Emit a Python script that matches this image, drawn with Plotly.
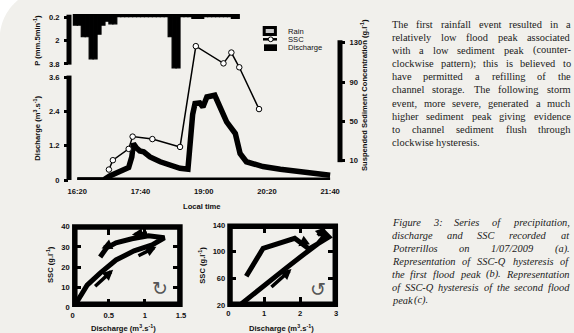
import math
import plotly.graph_objects as go

W, H = 574, 333
BG = "#f1f0ec"
DAY = "2009-07-01 "
SANS = "Liberation Sans, Arial, sans-serif"
SERIF = "Liberation Serif, Times New Roman, serif"

# ---------------- data ----------------
rain_start = ["16:15", "16:20", "16:25", "16:30", "16:35", "16:40", "16:45", "16:50", "16:55",
              "17:00", "17:05", "17:10", "17:15", "17:20", "17:25", "17:30", "17:35", "17:40",
              "17:45", "17:50", "17:55", "18:00", "18:05", "18:10", "18:15", "18:20", "18:25",
              "18:30", "18:35", "18:40", "18:45", "18:50", "18:55", "19:00", "19:05", "19:10",
              "19:15", "19:20", "19:25", "19:30", "19:35", "19:40"]
rain_mm = [0.8, 0.8, 1.7, 1.7, 3.4, 3.4, 1.5, 0.8, 0.5,
           0.7, 0.7, 0.15, 0.15, 0.15, 0.15, 0.15, 0.15, 0.15,
           0.15, 0.15, 0.15, 0.15, 0.15, 0.15, 1.7, 4.1, 4.1,
           0.15, 0.15, 0.15, 0.28, 0.28, 0.28, 0.15, 0.15, 0.15,
           0.15, 0.15, 0.15, 0.15, 0.28, 0.28]

q_time = ["16:20", "16:53", "17:01", "17:14", "17:25", "17:29", "17:31", "17:35", "17:39",
          "17:44", "17:52", "18:05", "18:17", "18:30", "18:40", "18:43", "18:46", "18:49",
          "18:55", "18:59", "19:04", "19:14", "19:21", "19:29", "19:40", "19:46", "19:54",
          "20:15", "20:37", "21:19", "21:40"]
q_val = [0, 0, 0.14, 0.29, 0.44, 0.81, 1.28, 1.12, 1.02,
         0.99, 0.81, 0.64, 0.52, 0.41, 0.38, 1.63, 2.3, 2.68,
         2.7, 2.56, 2.91, 2.97, 2.56, 2.04, 1.63, 0.93, 0.64,
         0.47, 0.38, 0.26, 0.17]

ssc_time = ["17:00", "17:05", "17:25", "17:30", "17:55", "18:30", "18:50", "19:25", "19:35", "19:45", "20:10"]
ssc_val = [1, 10.5, 22, 34.5, 32, 24, 126.5, 109, 120, 105, 62.5]

time_ticks = ["16:20", "17:40", "19:00", "20:20", "21:40"]

# hysteresis, first flood peak (b)
q_b = [0.03, 0.2, 0.38, 0.6, 0.85, 1.1, 1.27, 1.05, 0.82, 0.6, 0.47, 0.38]
ssc_b = [1, 11, 17, 23.5, 28, 31, 34.5, 35.5, 34, 32, 29.5, 25]
# hysteresis, second flood peak (c)
q_c = [0.37, 1.0, 1.6, 2.2, 2.5, 2.72, 2.6, 2.8, 2.5, 2.25, 1.85, 0.97, 0.5]
ssc_c = [22, 48, 75, 100, 112, 126, 133, 122, 112, 104, 120, 105, 63]

paragraph = [
    "The first rainfall event resulted in a",
    "relatively low flood peak associated",
    "with a low sediment peak (counter-",
    "clockwise pattern); this is believed to",
    "have permitted a refilling of the",
    "channel storage. The following storm",
    "event, more severe, generated a much",
    "higher sediment peak giving evidence",
    "to channel sediment flush through",
    "clockwise hysteresis.",
]
caption = [
    "Figure 3: Series of precipitation,",
    "discharge and SSC recorded at",
    "Potrerillos on 1/07/2009 (a).",
    "Representation of SSC-Q hysteresis of",
    "the first flood peak (b). Representation",
    "of SSC-Q hysteresis of the second flood",
    "peak (c).",
]


def T(t):
    return DAY + t


def px(x):
    return x / W


def py(y):
    return 1 - y / H


fig = go.Figure()

# rain
fig.add_trace(go.Bar(x=[T(t) for t in rain_start], y=rain_mm, base=0, width=300000, offset=0,
                     marker=dict(color="black", line=dict(color="black", width=1.2)),
                     xaxis="x", yaxis="y3", showlegend=False))
# discharge
fig.add_trace(go.Scatter(x=[T(t) for t in q_time], y=q_val, mode="lines",
                         line=dict(color="black", width=5.5), xaxis="x", yaxis="y", showlegend=False))
# SSC
fig.add_trace(go.Scatter(x=[T(t) for t in ssc_time], y=ssc_val, mode="lines+markers",
                         line=dict(color="black", width=1.5),
                         marker=dict(symbol="circle", size=5.5, color="white", line=dict(color="black", width=1)),
                         xaxis="x", yaxis="y2", showlegend=False))
# hysteresis b, c
fig.add_trace(go.Scatter(x=q_b, y=ssc_b, mode="lines", line=dict(color="black", width=5),
                         xaxis="x2", yaxis="y4", showlegend=False))
fig.add_trace(go.Scatter(x=q_c, y=ssc_c, mode="lines", line=dict(color="black", width=5),
                         xaxis="x3", yaxis="y5", showlegend=False))

tickfont = dict(family=SANS, size=7.6, color="#111", weight="bold")
common = dict(showgrid=False, zeroline=False, showline=False, tickfont=tickfont, fixedrange=True,
              automargin=False)

fig.update_layout(
    width=W, height=H, margin=dict(l=0, r=0, t=0, b=0, autoexpand=False),
    paper_bgcolor=BG, plot_bgcolor="rgba(0,0,0,0)", bargap=0, showlegend=False,
    xaxis=dict(domain=[px(69), px(340)], type="date", range=[T("16:09:29"), T("21:52:30")],
               tickvals=[T(t) for t in time_ticks], ticktext=time_ticks, ticks="",
               anchor="y", ticklabelstandoff=5, **common),
    yaxis=dict(domain=[py(180), py(73)], range=[0, 3.75], tickvals=[0, 1.2, 2.4, 3.6],
               ticktext=["0", "1.2", "2.4", "3.6"], ticks="outside", ticklen=4, tickwidth=3,
               tickcolor="black", anchor="x", ticklabelstandoff=3, **common),
    yaxis2=dict(domain=[py(181), py(14)], range=[-10.65, 159.2], tickvals=[10, 50, 90, 130],
                ticks="outside", ticklen=4, tickwidth=3, tickcolor="black", side="right",
                anchor="x", ticklabelstandoff=3, **common),
    yaxis3=dict(domain=[py(70), py(13)], range=[4.264, -0.131], tickvals=[0.2, 2, 3.8],
                ticktext=["0.2", "2", "3.8"], ticks="outside", ticklen=4, tickwidth=3,
                tickcolor="black", anchor="x", ticklabelstandoff=3, **common),
    xaxis2=dict(domain=[px(72.7), px(181)], range=[0, 1.5], tickvals=[0, 0.5, 1, 1.5],
                ticktext=["0", "0.5", "1", "1.5"], ticks="inside", ticklen=8, tickwidth=3,
                tickcolor="black", mirror="ticks", anchor="y4", ticklabelstandoff=2, **common),
    yaxis4=dict(domain=[py(307.3), py(226.7)], range=[0, 40], tickvals=[0, 10, 20, 30, 40],
                ticks="inside", ticklen=8, tickwidth=3, tickcolor="black", mirror="ticks",
                anchor="x2", ticklabelstandoff=2, **common),
    xaxis3=dict(domain=[px(228.3), px(336)], range=[0, 3], tickvals=[0, 1, 2, 3],
                ticks="inside", ticklen=8, tickwidth=3, tickcolor="black", mirror="ticks",
                anchor="y5", ticklabelstandoff=2, **common),
    yaxis5=dict(domain=[py(305), py(225)], range=[20, 140], tickvals=[20, 60, 100, 140],
                ticks="inside", ticklen=8, tickwidth=3, tickcolor="black", mirror="ticks",
                anchor="x3", ticklabelstandoff=2, **common),
)

shapes = []
# white rounded corner top-left
cx, cy, R = 49.7, 38.7, 50.0
a1 = math.atan2(0 - cy, 18 - cx)
a2 = math.atan2(33 - cy, 0 - cx)
pts = [(0, 0), (18, 0)]
for i in range(1, 24):
    a = a1 + (a2 - a1) * i / 24
    pts.append((cx + R * math.cos(a), cy + R * math.sin(a)))
pts.append((0, 33))
path = "M " + " L ".join(f"{px(x):.5f},{py(y):.5f}" for x, y in pts) + " Z"
shapes.append(dict(type="path", path=path, xref="paper", yref="paper", fillcolor="white",
                   line=dict(width=0), layer="below"))
# axis lines
shapes.append(dict(type="line", xref="paper", yref="y3", x0=px(69), x1=px(69), y0=0, y1=3.85,
                   line=dict(color="black", width=5)))
shapes.append(dict(type="line", xref="paper", yref="y", x0=px(69), x1=px(69), y0=-0.06, y1=3.66,
                   line=dict(color="black", width=5)))
shapes.append(dict(type="line", xref="x", yref="y", x0=T("16:20"), x1=T("21:40"), y0=0, y1=0,
                   line=dict(color="black", width=5)))
shapes.append(dict(type="line", xref="paper", yref="y2", x0=px(340), x1=px(340), y0=8.5, y1=132.5,
                   line=dict(color="black", width=5)))
# boxes of hysteresis panels
shapes.append(dict(type="rect", xref="paper", yref="paper", x0=px(74.8), x1=px(179.9),
                   y0=py(304.3), y1=py(227), line=dict(color="black", width=5.5)))
shapes.append(dict(type="rect", xref="paper", yref="paper", x0=px(230), x1=px(335.3),
                   y0=py(304.2), y1=py(226.2), line=dict(color="black", width=5.5)))
# legend symbols
shapes.append(dict(type="rect", xref="paper", yref="paper", x0=px(264.2), x1=px(275.4),
                   y0=py(34.4), y1=py(27.4), fillcolor="#c9c9c9", line=dict(color="black", width=3)))
shapes.append(dict(type="line", xref="paper", yref="paper", x0=px(263), x1=px(277),
                   y0=py(39.3), y1=py(39.3), line=dict(color="black", width=2.5)))
shapes.append(dict(type="circle", xref="paper", yref="paper", x0=px(268.3), x1=px(273.1),
                   y0=py(41.7), y1=py(36.9), fillcolor="white", line=dict(color="black", width=1)))
shapes.append(dict(type="rect", xref="paper", yref="paper", x0=px(264), x1=px(277),
                   y0=py(51), y1=py(44.3), fillcolor="black", line=dict(width=0)))
fig.update_layout(shapes=shapes)

ann = []


def label(text, x, y, size=7.6, bold=True, angle=0, anchor="center", color="#111", family=SANS):
    ann.append(dict(text=text, x=px(x), y=py(y), xref="paper", yref="paper", showarrow=False,
                    xanchor=anchor, yanchor="middle", textangle=angle, borderpad=0, borderwidth=0,
                    font=dict(family=family, size=size, color=color, weight="bold" if bold else "normal")))


label("P (mm.5min<sup>-1</sup>)", 36.7, 40, angle=-90)
label("Discharge (m<sup>3</sup>.s<sup>-1</sup>)", 36.7, 128, angle=-90)
label("Suspended Sediment Concentration (g.l<sup>-1</sup>)", 364, 95, angle=-90)
label("Local time", 202, 206)
label("SSC (g.l<sup>-1</sup>)", 50, 265, angle=-90)
label("SSC (g.l<sup>-1</sup>)", 201.7, 265, angle=-90)
label("Discharge (m<sup>3</sup>.s<sup>-1</sup>)", 123, 327.5)
label("Discharge (m<sup>3</sup>.s<sup>-1</sup>)", 281.7, 327.5)
label("Rain", 287.7, 31, bold=False, anchor="left")
label("SSC", 287.7, 39.3, bold=False, anchor="left")
label("Discharge", 287.7, 47.6, bold=False, anchor="left")
label("↻", 160, 288, size=19, bold=False, color="#555", family="DejaVu Sans")
label("↺", 317.5, 288.5, size=19, bold=False, color="#555", family="DejaVu Sans")

# arrows in hysteresis panels
arrows_b = [((0.29, 9.8), (0.56, 18.6)), ((0.89, 25.2), (1.16, 30.1)),
            ((1.05, 37.0), (0.82, 36.0)), ((0.55, 31.6), (0.40, 29.2))]
for (x0, y0), (x1, y1) in arrows_b:
    ann.append(dict(x=x1, y=y1, ax=x0, ay=y0, xref="x2", yref="y4", axref="x2", ayref="y4",
                    showarrow=True, arrowhead=2, arrowsize=0.6, arrowwidth=3.5, arrowcolor="black", text=""))
arrows_c = [((1.16, 45), (1.76, 74)), ((2.2, 118), (1.95, 108)), ((2.45, 122), (2.72, 137))]
for (x0, y0), (x1, y1) in arrows_c:
    ann.append(dict(x=x1, y=y1, ax=x0, ay=y0, xref="x3", yref="y5", axref="x3", ayref="y5",
                    showarrow=True, arrowhead=2, arrowsize=0.6, arrowwidth=3.5, arrowcolor="black", text=""))

# justified text blocks
TR = {' ': 250, '(': 333, ')': 333, ',': 250, '-': 333, '.': 250, '/': 278, ':': 278, ';': 278,
      'T': 611, 'F': 556, 'S': 556, 'C': 667, 'P': 556, 'R': 667, 'Q': 722,
      'a': 444, 'b': 500, 'c': 444, 'd': 500, 'e': 444, 'f': 333, 'g': 500, 'h': 500, 'i': 278,
      'j': 278, 'k': 500, 'l': 278, 'm': 778, 'n': 500, 'o': 500, 'p': 500, 'q': 500, 'r': 333,
      's': 389, 't': 278, 'u': 500, 'v': 500, 'w': 722, 'x': 500, 'y': 500, 'z': 444}
TI = {' ': 250, '(': 333, ')': 333, ',': 250, '-': 333, '.': 250, '/': 278, ':': 333, ';': 333,
      'T': 556, 'F': 611, 'S': 500, 'C': 667, 'P': 611, 'R': 611, 'Q': 722,
      'a': 500, 'b': 500, 'c': 444, 'd': 500, 'e': 444, 'f': 278, 'g': 500, 'h': 500, 'i': 278,
      'j': 278, 'k': 444, 'l': 278, 'm': 722, 'n': 500, 'o': 500, 'p': 500, 'q': 500, 'r': 389,
      's': 389, 't': 278, 'u': 500, 'v': 444, 'w': 667, 'x': 444, 'y': 444, 'z': 389}


def justify(lines, table, y0, dy, left, right, size, style):
    for i, line in enumerate(lines):
        words = line.split(" ")
        widths = [sum(table.get(ch, 500) for ch in w) * size / 1000 for w in words]
        last = i == len(lines) - 1
        gap = table[' '] * size / 1000 if last or len(words) < 2 else \
            (right - left - sum(widths)) / (len(words) - 1)
        x = left
        y = y0 + i * dy
        for j, w in enumerate(words):
            if not last and j == len(words) - 1:
                xx, anc = right, "right"
            else:
                xx, anc = x, "left"
            ann.append(dict(text=w, x=px(xx), y=py(y), xref="paper", yref="paper", showarrow=False,
                            xanchor=anc, yanchor="middle", borderpad=0, borderwidth=0,
                            font=dict(family=SERIF, size=size, color="#1a1a1a", style=style)))
            x += widths[j] + gap


justify(paragraph, TR, 24, 13.19, 391.7, 570.7, 10.4, "normal")
justify(caption, TI, 222.7, 12.9, 391.7, 569.5, 10.4, "italic")

fig.update_layout(annotations=ann)
fig.write_html("out.html", config={"displayModeBar": False, "staticPlot": True},
               post_script="document.body.style.margin='0px';document.body.style.overflow='hidden';")
